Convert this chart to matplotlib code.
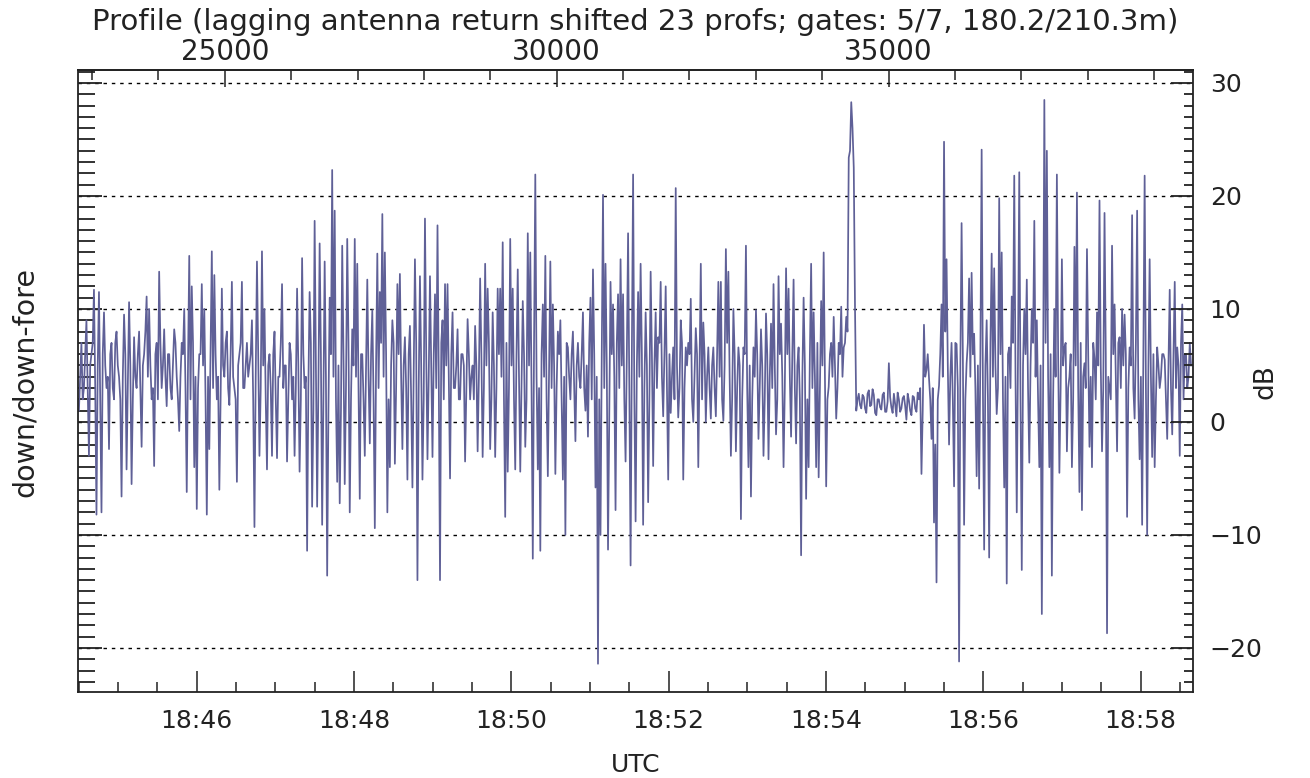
import numpy as np
import matplotlib
matplotlib.use("Agg")
import matplotlib.pyplot as plt
from matplotlib.ticker import MultipleLocator, FixedLocator, FuncFormatter

# axis span (seconds of day, UTC) and matching profile numbers
t_start, t_end = 67469.4, 68319.9
prof_start, prof_end = 22789, 39586

# down/down-fore ratio in dB left to right.
# seg_* : the excursions (peaks / dips), mid_* : the dense band in between
seg_a = [1, 7, 3, 9, -3, 6,
         11.7, -8.2, 11.5, -8,
         9.7, 3, -2.4, 7, 2, 8, 4,
         -6.6, 9.5, -4.2, 10.6, -5.5, 7.5,
         3, 8, -2.2, 6, 11.1,
         10, 2, -3.9, 7, 13.3, 3,
         8.2, 1.4, 6, 2, 8.2, 4, -0.8, 7,
         10, -6.2, 14.7, 12, -4, -7.7, 6,
         12.2, 10, -8.2, -2.4, 15.1,
         13, 2, -6, 11.8, 4,
         8, 1.5, 12.4, 3, -5.3,
         6, 12.4, 3, 7, 5, 9,
         -9.3, 14.2, -3, 15.1, 10,
         -4.2, 6, -3, 8, -3.2, 4, 12.2,
         5, -3.5, 7, 2, -3, 11.8,
         -4.4, 14.5, 3, -11.4, 11.5, -7.5,
         17.8, -7.5, 15.8, -9.1, 14.2, -13.6,
         11, 22.3, 18.7, -5.3, -7.2, 15.6,
         -5.5, 16.2, -8, 8.2, 16.2]
mid_a = [4, 2, 6, 3, 5, 7,
         3, 5, 2, 6,
         5, 4, 6, 3, 7, 5, 2,
         4, 6, 3, 5, 2, 4,
         6, 3, 5, 8, 4,
         5, 3, 6, 2, 7, 5,
         4, 6, 3, 5, 7, 2, 4, 6,
         3, 5, 2, 7, 4, 3, 6,
         5, 2, 4, 6, 3,
         6, 4, 2, 5, 7,
         3, 6, 4, 2, 5,
         7, 3, 5, 4, 6, 2,
         4, 6, 3, 5, 2,
         5, 3, 6, 2, 4, 7, 3,
         5, 2, 6, 4, 3, 5,
         2, 6, 4, 3, 7, 1,
         5, 3, 6, 2, 4, 1,
         6, 4, 2, 5, 1, 6,
         3, 7, 2, 5, 4]
seg_b = [14, -6.8, 6, -3, 12.6, -1.9,
         9.9, -9.4, 14.9, 11.5, 18.4, 15,
         -8, -4, 9, -3.7, 12.2, 13.1,
         -2.4, 7.5, -5.1, 8.5, -5.8, 14.4,
         -14, 12.9, -5.1, 18, -3.3, 12.9,
         -3.1, 11.3, 17.4, -14, 9, 12.2,
         12.2, -5, 9.7, 3, 8.2, 2,
         6, -3.5, 9.1, 2, 5, 8.5,
         -2.6, 12.7, -3.1, 14, 11.8, -2.4,
         9.7, -3.1, 11.8, 11.8, 15.9, -8.4,
         -4.4, 16.2, 11.8, -4.2, 13.5, -4.4,
         10.7, -2.2, 16.7, 15, -12.1, 21.9,
         -4.2, -11.4, 10.4, 14.7, -4.8, 14.2,
         10.4, -4.6, 8, 9, -5.1, -10,
         6.6, 2, 8, -1.7, 7, 3,
         9.7, 1, -1.3, 11, 13.5, -5.8,
         -21.4, -10, 20.1, 14, -11.3, 12.4,
         10.4, -7.8, 11.3, 14.4, 11.3, -3.5,
         16.7, -12.7, 21.9, -8.8]
mid_b = [3, 6, 2, 5, 4, 6,
         2, 5, 3, 7, 4, 6,
         2, 5, 7, 3, 6, 4,
         5, 3, 6, 2, 4, 7,
         3, 5, 2, 6, 4, 5,
         6, 3, 4, 7, 2, 5,
         4, 6, 3, 5, 2, 6,
         5, 3, 6, 4, 2, 5,
         4, 6, 3, 5, 7, 2,
         5, 3, 6, 4, 2, 7,
         3, 5, 2, 6, 4, 3,
         6, 2, 5, 3, 7, 4,
         3, 6, 4, 2, 5, 3,
         5, 3, 6, 2, 4, 7,
         4, 6, 3, 5, 4, 6,
         3, 5, 7, 2, 6, 4,
         2, 6, 3, 5, 1, 6,
         4, 7, 3, 5, 2, 6,
         3, 6, 2, 5]
seg_c = [11.5, 14, -9.1, 9.7, -7.1, 13.3,
         -3.9, 9.7, 7.5, 12.4, 0.5, 12,
         -5.1, 0.8, 6.6, 20.7, 0.4, 9,
         -5.1, 6.6, 7, 10.9, 0, 8.3,
         -4, 14, 8.8, 0, 6.6, 0.3,
         6.6, 0.5, 12.4, 12.4, 0.1, 15.3,
         13.3, -3, 10, -2.6, 6.6, -8.6,
         6.6, 15.6, -4, -6.6, 6.6, 9.9,
         -1.5, 8.2, -3, 9.6, -3.3, 8.7,
         12.2, -1.1, 12.9, 8.7, -4, 13.6,
         11.8, -1.3, 12.6, -1.9, 6.6, -11.8,
         11, -6.8, -4, 14, 9.7, -4,
         -4.9, 10.7, 15, -5.7, 3.1, 7,
         9.3, 0.3, 7, 10.2, 6.6, 9.3,
         23.4, 28.3, 22.5, 1.0, 2.5, 1.2,
         2.2, 0.8, 2.8, 1.5, 2.4, 0.6,
         2, 1.1, 2.6, 0.9, 5.2, 1.3,
         2.5, 0.5, 2.0, 1.2, 2.3, 0.2,
         1.9, 0.6, 2.2, 0.9]
mid_c = [4, 6, 3, 5, 2, 6,
         5, 3, 7, 4, 6, 3,
         6, 4, 2, 5, 3, 7,
         3, 5, 6, 2, 4, 6,
         5, 2, 6, 4, 3, 5,
         3, 6, 4, 2, 5, 7,
         4, 2, 6, 3, 5, 2,
         6, 3, 5, 2, 4, 6,
         3, 5, 2, 6, 4, 3,
         5, 2, 6, 4, 3, 6,
         4, 6, 3, 5, 2, 4,
         5, 2, 6, 3, 4, 7,
         3, 5, 4, 2, 6, 4,
         5, 3, 6, 4, 7, 8,
         24, 26, 10, 2, 1.5, 2.4,
         1.2, 2.5, 1.4, 2.9, 0.8, 2.0,
         1.3, 2.4, 0.9, 1.8, 2.2, 0.8,
         1.6, 2.6, 0.9, 2.1, 1.4, 2.5,
         1.0, 2.3, 1.2, 2.6]
seg_d = [2, -4.6, 8.6, 4.6, 3.9, -1.5,
         -8.9, -14.2, 3.2, 10.4, 24.8, 14.4,
         -2, 7, -5.7, 6.9, -21.2, 17.6,
         -9.1, 5.2, 12.7, 13.2, 7.8, -4.8,
         -5.9, 24.1, -11.3, 9, -12, 14.9,
         13.6, 0.7, 19.8, 15, -5.8, -14.3,
         6.6, 11.1, 21.8, -8, 22.1, -13.1,
         10, 12.6, -3.6, 10, 17.8, 9,
         -4, -17, 28.5, 24, -4, -13.6,
         10, 21.9, -4.5, 14.4, 6.6, -2.6,
         4, -4, 15.5, 20.3, -6.2, -7.8,
         5.2, 15.3, -2.2, -4, 5.6, 9.7,
         19.6, -2.6, 18.5, -18.7, 3, 15.6,
         10.4, -2.6, 7.5, 10, 9.5, -8.4,
         6.6, 18.3, 0.3, 18.7, -3.3, -9.1,
         21.8, -10, 14.4, -3.1, -4, 6.6,
         3, 6, 5.5, -1.5, 11.7, -1.1,
         12.4, 6.6, -3, 10.4, 6, 3, 7]
mid_d = [3, 1, 4, 6, 2, 3,
         -2, 2, 6, 4, 8, 5,
         4, 2, 7, 3, 5, 6,
         2, 7, 4, 6, 3, 5,
         6, 3, 5, 2, 7, 4,
         5, 3, 6, 2, 4, 6,
         3, 7, 4, 6, 2, 5,
         6, 3, 5, 7, 4, 2,
         5, 3, 7, 4, 6, 2,
         4, 6, 3, 5, 7, 3,
         6, 2, 5, 3, 7, 4,
         3, 6, 4, 7, 2, 5,
         5, 3, 6, 4, 2, 6,
         4, 7, 3, 5, 6, 3,
         5, 3, 7, 2, 4, 6,
         3, 5, 4, 6, 2, 5,
         4, 6, 2, 5, 3, 6,
         3, 5, 7, 2, 6, 4, 5]

peaks = np.array(seg_a + seg_b + seg_c + seg_d)
band = np.array(mid_a + mid_b + mid_c + mid_d)
ratio_db = np.column_stack([peaks, band]).ravel()

line_color = '#5f6097'
ink = '#222222'
plt.rcParams['font.family'] = ['DejaVu Sans']

t = np.linspace(t_start + 0.7, t_end - 1.5, len(ratio_db))

fig = plt.figure(figsize=(13.1, 7.78), dpi=100)
ax = fig.add_axes([78 / 1310, 1 - 692 / 778, (1193 - 78) / 1310, (692 - 70) / 778])
ax.plot(t, ratio_db, color=line_color, lw=1.25)

ax.set_xlim(t_start, t_end)
ax.set_ylim(-23.9, 31.15)

# horizontal dashed grid at the 10 dB marks
for v in range(-20, 31, 10):
    ax.axhline(v, color='black', lw=1, ls=(0, (2.5, 3.5)), zorder=0)

for s in ax.spines.values():
    s.set_color(ink)
    s.set_linewidth(1.3)

# bottom: UTC time
def hhmm(x, pos):
    x = int(round(x))
    return f"{x // 3600:02d}:{(x % 3600) // 60:02d}"

ax.xaxis.set_major_locator(MultipleLocator(120))
ax.xaxis.set_minor_locator(MultipleLocator(30))
ax.xaxis.set_major_formatter(FuncFormatter(hhmm))
ax.tick_params(axis='x', which='both', direction='in', top=False,
               colors=ink, labelsize=18, pad=12)
ax.tick_params(axis='x', which='major', length=15, width=1.1)
ax.tick_params(axis='x', which='minor', length=7, width=1.1)

# left: ticks only
ax.yaxis.set_major_locator(MultipleLocator(10))
ax.yaxis.set_minor_locator(MultipleLocator(1))
ax.tick_params(axis='y', which='both', direction='in', right=False,
               labelleft=False, colors=ink)
ax.tick_params(axis='y', which='major', length=17, width=1.3)
ax.tick_params(axis='y', which='minor', length=12, width=1.3)

# right: dB labels
axr = ax.twinx()
axr.set_ylim(ax.get_ylim())
axr.yaxis.set_major_locator(MultipleLocator(10))
axr.yaxis.set_minor_locator(MultipleLocator(1))
axr.tick_params(axis='y', which='both', direction='in', colors=ink,
                labelsize=18, pad=12)
axr.tick_params(axis='y', which='major', length=16, width=1.3)
axr.tick_params(axis='y', which='minor', length=6.5, width=1.3)
for s in axr.spines.values():
    s.set_visible(False)

# top: profile number
rate = (prof_end - prof_start) / (t_end - t_start)
top = ax.secondary_xaxis('top', functions=(lambda x: prof_start + (x - t_start) * rate,
                                           lambda p: t_start + (p - prof_start) / rate))
top.xaxis.set_major_locator(FixedLocator([25000, 30000, 35000]))
top.xaxis.set_minor_locator(MultipleLocator(1000))
top.xaxis.set_major_formatter(FuncFormatter(lambda v, p: f"{int(round(v))}"))
top.tick_params(axis='x', which='both', direction='in', colors=ink,
                labelsize=20, pad=3)
top.tick_params(axis='x', which='major', length=12, width=1.1)
top.tick_params(axis='x', which='minor', length=7, width=1.1)
top.spines['top'].set_color(ink)
top.spines['top'].set_linewidth(1.3)

fig.text(635.5 / 1310, 1 - 22 / 778,
         "Profile (lagging antenna return shifted 23 profs; gates: 5/7, 180.2/210.3m)",
         ha='center', va='center', fontsize=21, color=ink)
fig.text(635.5 / 1310, 1 - 765 / 778, "UTC", ha='center', va='center',
         fontsize=18, color=ink)
fig.text(25 / 1310, 1 - 382 / 778, "down/down-fore", ha='center', va='center',
         rotation=90, fontsize=20.5, color=ink)
fig.text(1266 / 1310, 1 - 382 / 778, "dB", ha='center', va='center',
         rotation=90, fontsize=19, color=ink)

fig.savefig("out.png", dpi=100, facecolor='white')
